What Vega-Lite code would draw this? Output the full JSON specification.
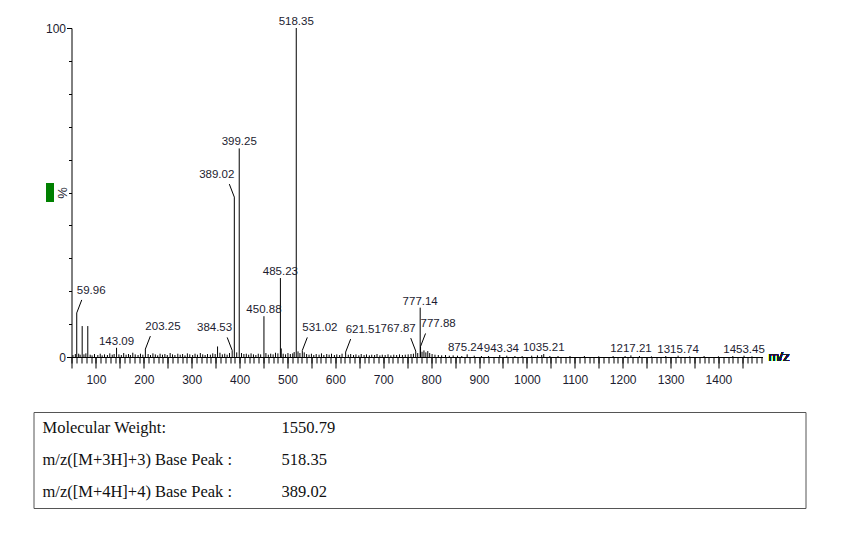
{
  "$schema": "https://vega.github.io/schema/vega-lite/v6.json",
  "background": "white",
  "padding": {"left": 32.5, "top": 16, "right": 0, "bottom": 0},
  "bounds": "flush",
  "spacing": 55,
  "datasets": {
    "peaks": [
      {"mz": 59.96, "pct": 13.4, "label": "59.96", "side": "right"},
      {"mz": 71.3, "pct": 9.4},
      {"mz": 83.0, "pct": 9.4},
      {"mz": 143.09, "pct": 2.8, "label": "143.09", "side": "top"},
      {"mz": 203.25, "pct": 2.4, "label": "203.25", "side": "right"},
      {"mz": 354.0, "pct": 3.2},
      {"mz": 384.53, "pct": 2.0, "label": "384.53", "side": "left"},
      {"mz": 389.02, "pct": 48.6, "label": "389.02", "side": "left"},
      {"mz": 399.25, "pct": 63.4, "label": "399.25", "side": "top"},
      {"mz": 450.88, "pct": 12.4, "label": "450.88", "side": "top"},
      {"mz": 485.23, "pct": 24.0, "label": "485.23", "side": "top"},
      {"mz": 518.35, "pct": 100, "label": "518.35", "side": "top"},
      {"mz": 531.02, "pct": 2.0, "label": "531.02", "side": "right"},
      {"mz": 621.51, "pct": 1.5, "label": "621.51", "side": "right"},
      {"mz": 767.87, "pct": 1.8, "label": "767.87", "side": "left"},
      {"mz": 777.14, "pct": 15.0, "label": "777.14", "side": "top"},
      {"mz": 777.88, "pct": 3.2, "label": "777.88", "side": "right"},
      {"mz": 875.24, "pct": 0.8, "label": "875.24", "side": "topleft"},
      {"mz": 943.34, "pct": 0.6, "label": "943.34", "side": "topright"},
      {"mz": 1035.21, "pct": 0.9, "label": "1035.21", "side": "top"},
      {"mz": 1217.21, "pct": 0.5, "label": "1217.21", "side": "top"},
      {"mz": 1315.74, "pct": 0.4, "label": "1315.74", "side": "top"},
      {"mz": 1453.45, "pct": 0.4, "label": "1453.45", "side": "top"},
      {"mz": 52, "pct": 0.6}, {"mz": 57, "pct": 0.9}, {"mz": 64, "pct": 1.0}, {"mz": 67, "pct": 0.7},
      {"mz": 75, "pct": 0.8}, {"mz": 79, "pct": 1.1}, {"mz": 88, "pct": 0.7}, {"mz": 92, "pct": 0.5},
      {"mz": 97, "pct": 0.9}, {"mz": 104, "pct": 0.6}, {"mz": 109, "pct": 1.0}, {"mz": 113, "pct": 0.5},
      {"mz": 118, "pct": 0.8}, {"mz": 124, "pct": 0.6}, {"mz": 129, "pct": 1.1}, {"mz": 134, "pct": 0.7},
      {"mz": 138, "pct": 0.9}, {"mz": 148, "pct": 0.8}, {"mz": 153, "pct": 0.6}, {"mz": 158, "pct": 1.2},
      {"mz": 163, "pct": 0.7}, {"mz": 168, "pct": 0.9}, {"mz": 172, "pct": 0.6}, {"mz": 177, "pct": 1.3},
      {"mz": 182, "pct": 0.8}, {"mz": 188, "pct": 0.6}, {"mz": 193, "pct": 1.0}, {"mz": 198, "pct": 0.7},
      {"mz": 209, "pct": 0.9}, {"mz": 214, "pct": 0.6}, {"mz": 219, "pct": 1.1}, {"mz": 224, "pct": 0.8},
      {"mz": 229, "pct": 0.5}, {"mz": 234, "pct": 1.0}, {"mz": 239, "pct": 0.7}, {"mz": 244, "pct": 0.9},
      {"mz": 249, "pct": 0.6}, {"mz": 255, "pct": 1.2}, {"mz": 260, "pct": 0.8}, {"mz": 265, "pct": 0.6},
      {"mz": 271, "pct": 1.0}, {"mz": 276, "pct": 0.7}, {"mz": 281, "pct": 0.9}, {"mz": 286, "pct": 0.5},
      {"mz": 291, "pct": 1.1}, {"mz": 296, "pct": 0.8}, {"mz": 302, "pct": 0.6}, {"mz": 307, "pct": 1.0},
      {"mz": 312, "pct": 0.7}, {"mz": 318, "pct": 1.2}, {"mz": 323, "pct": 0.8}, {"mz": 328, "pct": 0.6},
      {"mz": 333, "pct": 0.9}, {"mz": 339, "pct": 0.7}, {"mz": 344, "pct": 1.1}, {"mz": 349, "pct": 0.9},
      {"mz": 359, "pct": 1.3}, {"mz": 364, "pct": 0.8}, {"mz": 369, "pct": 1.0}, {"mz": 374, "pct": 0.7},
      {"mz": 379, "pct": 1.2}, {"mz": 394, "pct": 1.4}, {"mz": 404, "pct": 1.2}, {"mz": 409, "pct": 0.9},
      {"mz": 414, "pct": 1.0}, {"mz": 419, "pct": 0.7}, {"mz": 424, "pct": 1.1}, {"mz": 429, "pct": 0.8},
      {"mz": 434, "pct": 0.6}, {"mz": 439, "pct": 1.0}, {"mz": 444, "pct": 0.8}, {"mz": 455, "pct": 1.2},
      {"mz": 460, "pct": 0.7}, {"mz": 465, "pct": 1.0}, {"mz": 470, "pct": 0.8}, {"mz": 475, "pct": 1.3},
      {"mz": 480, "pct": 1.1}, {"mz": 487, "pct": 2.6}, {"mz": 491, "pct": 1.0}, {"mz": 496, "pct": 0.8},
      {"mz": 501, "pct": 1.2}, {"mz": 506, "pct": 0.9}, {"mz": 511, "pct": 1.1}, {"mz": 514, "pct": 1.5},
      {"mz": 522, "pct": 1.7}, {"mz": 526, "pct": 1.2}, {"mz": 535, "pct": 1.4}, {"mz": 540, "pct": 0.9},
      {"mz": 545, "pct": 0.7}, {"mz": 550, "pct": 1.0}, {"mz": 555, "pct": 0.6}, {"mz": 560, "pct": 0.9},
      {"mz": 566, "pct": 0.7}, {"mz": 571, "pct": 1.1}, {"mz": 576, "pct": 0.6}, {"mz": 582, "pct": 0.9},
      {"mz": 587, "pct": 0.7}, {"mz": 592, "pct": 1.0}, {"mz": 598, "pct": 0.6}, {"mz": 603, "pct": 0.8},
      {"mz": 609, "pct": 0.6}, {"mz": 614, "pct": 1.0}, {"mz": 627, "pct": 0.7}, {"mz": 632, "pct": 0.9},
      {"mz": 638, "pct": 0.6}, {"mz": 643, "pct": 0.8}, {"mz": 649, "pct": 0.5}, {"mz": 654, "pct": 0.9},
      {"mz": 660, "pct": 0.6}, {"mz": 665, "pct": 0.8}, {"mz": 671, "pct": 0.5}, {"mz": 676, "pct": 0.7},
      {"mz": 682, "pct": 0.6}, {"mz": 687, "pct": 0.9}, {"mz": 693, "pct": 0.5}, {"mz": 698, "pct": 0.7},
      {"mz": 704, "pct": 0.6}, {"mz": 710, "pct": 0.8}, {"mz": 716, "pct": 0.5}, {"mz": 722, "pct": 0.7},
      {"mz": 728, "pct": 0.6}, {"mz": 734, "pct": 0.8}, {"mz": 740, "pct": 0.6}, {"mz": 746, "pct": 0.7},
      {"mz": 752, "pct": 0.8}, {"mz": 758, "pct": 0.9}, {"mz": 763, "pct": 1.0}, {"mz": 772, "pct": 1.2},
      {"mz": 781, "pct": 1.6}, {"mz": 785, "pct": 2.0}, {"mz": 789, "pct": 1.4}, {"mz": 793, "pct": 1.8},
      {"mz": 797, "pct": 1.2}, {"mz": 802, "pct": 0.9}, {"mz": 808, "pct": 0.7}, {"mz": 815, "pct": 0.6},
      {"mz": 822, "pct": 0.5}, {"mz": 830, "pct": 0.6}, {"mz": 838, "pct": 0.4}, {"mz": 846, "pct": 0.5},
      {"mz": 855, "pct": 0.4}, {"mz": 864, "pct": 0.3}, {"mz": 890, "pct": 0.4}, {"mz": 905, "pct": 0.3},
      {"mz": 920, "pct": 0.3}, {"mz": 958, "pct": 0.4}, {"mz": 975, "pct": 0.3}, {"mz": 990, "pct": 0.3},
      {"mz": 1010, "pct": 0.4}, {"mz": 1022, "pct": 0.5}, {"mz": 1031, "pct": 0.6}, {"mz": 1048, "pct": 0.3},
      {"mz": 1065, "pct": 0.3}, {"mz": 1090, "pct": 0.3}, {"mz": 1120, "pct": 0.3}, {"mz": 1150, "pct": 0.2},
      {"mz": 1180, "pct": 0.3}, {"mz": 1205, "pct": 0.3}, {"mz": 1235, "pct": 0.3}, {"mz": 1260, "pct": 0.2},
      {"mz": 1290, "pct": 0.3}, {"mz": 1340, "pct": 0.2}, {"mz": 1370, "pct": 0.3}, {"mz": 1400, "pct": 0.2},
      {"mz": 1430, "pct": 0.3}, {"mz": 1470, "pct": 0.2}
    ],
    "summary": [
      {"row": 1, "col": "name", "text": "Molecular Weight:"},
      {"row": 1, "col": "value", "text": "1550.79"},
      {"row": 2, "col": "name", "text": "m/z([M+3H]+3) Base Peak :"},
      {"row": 2, "col": "value", "text": "518.35"},
      {"row": 3, "col": "name", "text": "m/z([M+4H]+4) Base Peak :"},
      {"row": 3, "col": "value", "text": "389.02"}
    ]
  },
  "vconcat": [
    {
      "width": 729,
      "height": 329,
      "view": {"stroke": null},
      "data": {"name": "peaks"},
      "resolve": {"axis": {"x": "independent", "y": "independent"}},
      "layer": [
        {
          "mark": {"type": "rule", "color": "#000000", "strokeWidth": 1},
          "encoding": {
            "x": {
              "field": "mz", "type": "quantitative",
              "scale": {"domain": [49, 1492], "range": [38, 729], "nice": false, "zero": false},
              "axis": {
                "orient": "bottom", "tickCount": 29, "tickSize": 11, "title": null, "grid": false,
                "labelExpr": "datum.value % 100 === 0 ? datum.label : ''",
                "format": "d", "labelFlush": false, "labelOverlap": false,
                "labelFont": "Liberation Sans", "labelFontSize": 12, "labelColor": "#1c1c30",
                "labelPadding": 6, "domainColor": "#000000", "tickColor": "#000000"
              }
            },
            "y": {
              "field": "pct", "type": "quantitative",
              "scale": {"domain": [0, 100], "nice": false},
              "axis": {
                "orient": "left", "offset": -38, "values": [0, 100], "tickSize": 5, "grid": false,
                "labelFont": "Liberation Sans", "labelFontSize": 12, "labelColor": "#1c1c30",
                "labelPadding": 1, "domainColor": "#000000", "tickColor": "#000000",
                "title": "%", "titleFont": "Liberation Sans", "titleFontSize": 13, "titleFontWeight": "normal",
                "titleColor": "#1c1c30", "titleX": -9, "titleY": 164.5, "titleAngle": -90,
                "titleAlign": "center", "titleBaseline": "middle"
              }
            },
            "y2": {"datum": 0}
          }
        },
        {
          "transform": [{"filter": "datum.side === 'top'"}],
          "mark": {"type": "text", "align": "center", "baseline": "alphabetic", "dy": -3,
                   "font": "Liberation Sans", "fontSize": 11.5, "color": "#1c1c30"},
          "encoding": {
            "x": {"field": "mz", "type": "quantitative",
                  "axis": {"orient": "bottom", "tickCount": 145, "tickSize": 6, "labels": false,
                           "domain": false, "title": null, "grid": false, "tickColor": "#000000"}},
            "y": {"field": "pct", "type": "quantitative",
                  "axis": {"orient": "left", "offset": -38, "values": [10, 20, 30, 40, 50, 60, 70, 80, 90], "tickSize": 3,
                           "labels": false, "domain": false, "title": null, "grid": false, "tickColor": "#000000"}},
            "text": {"field": "label"}
          }
        },
        {
          "transform": [{"filter": "datum.side === 'topleft'"}],
          "mark": {"type": "text", "align": "right", "baseline": "alphabetic", "dx": 16, "dy": -3,
                   "font": "Liberation Sans", "fontSize": 11.5, "color": "#1c1c30"},
          "encoding": {
            "x": {"field": "mz", "type": "quantitative", "axis": null},
            "y": {"field": "pct", "type": "quantitative", "axis": null},
            "text": {"field": "label"}
          }
        },
        {
          "transform": [{"filter": "datum.side === 'topright'"}],
          "mark": {"type": "text", "align": "left", "baseline": "alphabetic", "dx": -16, "dy": -3,
                   "font": "Liberation Sans", "fontSize": 11.5, "color": "#1c1c30"},
          "encoding": {
            "x": {"field": "mz", "type": "quantitative", "axis": null},
            "y": {"field": "pct", "type": "quantitative", "axis": null},
            "text": {"field": "label"}
          }
        },
        {
          "transform": [{"filter": "datum.side === 'left'"}],
          "mark": {"type": "rule", "color": "#000000", "strokeWidth": 1, "x2Offset": -5, "y2Offset": -13},
          "encoding": {
            "x": {"field": "mz", "type": "quantitative", "axis": null},
            "y": {"field": "pct", "type": "quantitative", "axis": null},
            "x2": {"field": "mz"},
            "y2": {"field": "pct"}
          }
        },
        {
          "transform": [{"filter": "datum.side === 'right'"}],
          "mark": {"type": "rule", "color": "#000000", "strokeWidth": 1, "x2Offset": 5, "y2Offset": -13},
          "encoding": {
            "x": {"field": "mz", "type": "quantitative", "axis": null},
            "y": {"field": "pct", "type": "quantitative", "axis": null},
            "x2": {"field": "mz"},
            "y2": {"field": "pct"}
          }
        },
        {
          "transform": [{"filter": "datum.side === 'left'"}],
          "mark": {"type": "text", "align": "right", "baseline": "alphabetic", "dx": 0, "dy": -19,
                   "font": "Liberation Sans", "fontSize": 11.5, "color": "#1c1c30"},
          "encoding": {
            "x": {"field": "mz", "type": "quantitative", "axis": null},
            "y": {"field": "pct", "type": "quantitative", "axis": null},
            "text": {"field": "label"}
          }
        },
        {
          "transform": [{"filter": "datum.side === 'right'"}],
          "mark": {"type": "text", "align": "left", "baseline": "alphabetic", "dx": 0, "dy": -19,
                   "font": "Liberation Sans", "fontSize": 11.5, "color": "#1c1c30"},
          "encoding": {
            "x": {"field": "mz", "type": "quantitative", "axis": null},
            "y": {"field": "pct", "type": "quantitative", "axis": null},
            "text": {"field": "label"}
          }
        },
        {
          "mark": {"type": "text", "align": "left", "baseline": "middle", "dx": 6, "text": "m/z",
                   "font": "Liberation Sans", "fontSize": 13, "color": "#1c1c30"},
          "encoding": {
            "x": {"datum": 1492, "type": "quantitative", "axis": null},
            "y": {"datum": 0, "type": "quantitative", "axis": null}
          }
        },
        {
          "mark": {"type": "point", "shape": "M-0.39,-1H0.39V1H-0.39Z", "size": 324, "filled": true,
                   "color": "#008000", "opacity": 1, "strokeWidth": 0, "xOffset": -21.5},
          "encoding": {
            "x": {"datum": 49, "type": "quantitative", "axis": null},
            "y": {"datum": 50, "type": "quantitative", "axis": null}
          }
        }
      ]
    },
    {
      "width": 772,
      "height": 96,
      "view": {"stroke": "#555555", "strokeWidth": 1, "fill": null},
      "data": {"name": "summary"},
      "mark": {"type": "text", "align": "left", "baseline": "middle",
               "font": "Liberation Serif", "fontSize": 16.5, "color": "#111111"},
      "encoding": {
        "x": {"field": "col", "type": "nominal",
              "scale": {"type": "point", "domain": ["name", "value"], "range": [9, 248], "padding": 0},
              "axis": null},
        "y": {"field": "row", "type": "ordinal",
              "scale": {"type": "point", "domain": [1, 2, 3], "padding": 0.5},
              "axis": null},
        "text": {"field": "text"}
      }
    }
  ]
}
